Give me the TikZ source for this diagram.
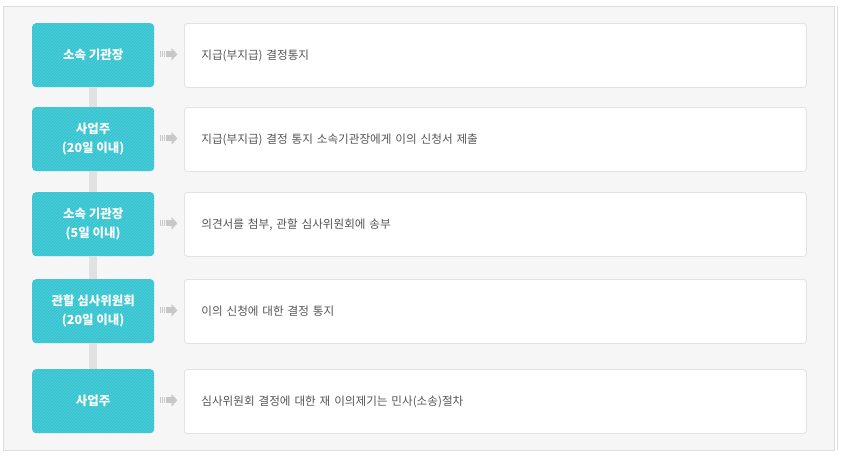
\documentclass[tikz,border=0pt]{standalone}
\usepackage{fontspec}
\setmainfont{Noto Sans CJK KR}
\usetikzlibrary{patterns,calc}
\definecolor{panelbg}{HTML}{F6F6F6}
\definecolor{panelline}{HTML}{DDDDDD}
\definecolor{tealbox}{HTML}{36C4D0}
\definecolor{tealline}{HTML}{52CFD9}
\definecolor{boxline}{HTML}{E2E2E2}
\definecolor{stem}{HTML}{E1E1E1}
\definecolor{arrowgray}{HTML}{C8C8C8}
\definecolor{txtgray}{HTML}{555555}
\tikzset{
  stagebox/.style={anchor=north west, minimum width=122pt, minimum height=64pt,
    inner sep=0pt, rounded corners=4pt, fill=tealbox,
    postaction={pattern=north east lines, pattern color=tealline},
    text=white, align=center, font=\fontsize{12.5}{19}\selectfont\bfseries},
  infobox/.style={anchor=north west, minimum width=622pt, minimum height=64pt,
    inner xsep=17pt, inner ysep=0pt, text width=588pt, rounded corners=3pt,
    fill=white, draw=boxline, line width=0.8pt, align=left, text=txtgray,
    font=\fontsize{11.6}{14}\selectfont},
  stemline/.style={draw=stem, line width=8pt},
  fwd/.pic={
    \fill[arrowgray] (-9.5,-3) rectangle (-8.2,3);
    \fill[arrowgray] (-7.3,-3) rectangle (-6,3);
    \fill[arrowgray] (-5.1,-3) rectangle (-3.8,3);
    \fill[arrowgray] (-3,-3) rectangle (2.5,3);
    \fill[arrowgray] (2.5,-6.2) -- (8.2,0) -- (2.5,6.2) -- cycle;
  }
}
\begin{document}
\begin{tikzpicture}[x=1pt,y=-1pt]
\useasboundingbox (0,0) rectangle (841,455);
\draw[fill=panelbg, draw=panelline, line width=0.8pt] (3,6) rectangle (834,450);
\draw[panelline, line width=0.6pt] (837.5,6) -- (837.5,450);

\node[stagebox] (t1) at (32,23) {소속 기관장};
\node[stagebox] (t2) at (32,107) {사업주\\(20일 이내)};
\node[stagebox] (t3) at (32,192) {소속 기관장\\(5일 이내)};
\node[stagebox] (t4) at (32,279) {관할 심사위원회\\(20일 이내)};
\node[stagebox] (t5) at (32,369) {사업주};

\draw[stemline] (t1.south) -- (t2.north);
\draw[stemline] (t2.south) -- (t3.north);
\draw[stemline] (t3.south) -- (t4.north);
\draw[stemline] (t4.south) -- (t5.north);

\node[infobox] (w1) at (184,23) {지급(부지급) 결정통지};
\node[infobox] (w2) at (184,107) {지급(부지급) 결정 통지 소속기관장에게 이의 신청서 제출};
\node[infobox] (w3) at (184,192) {의견서를 첨부, 관할 심사위원회에 송부};
\node[infobox] (w4) at (184,279) {이의 신청에 대한 결정 통지};
\node[infobox] (w5) at (184,369) {심사위원회 결정에 대한 재 이의제기는 민사(소송)절차};

\foreach \i in {1,...,5} {
  \pic at ($(t\i.east)!0.5!(w\i.west)+(0,-1)$) {fwd};
}
\end{tikzpicture}
\end{document}
